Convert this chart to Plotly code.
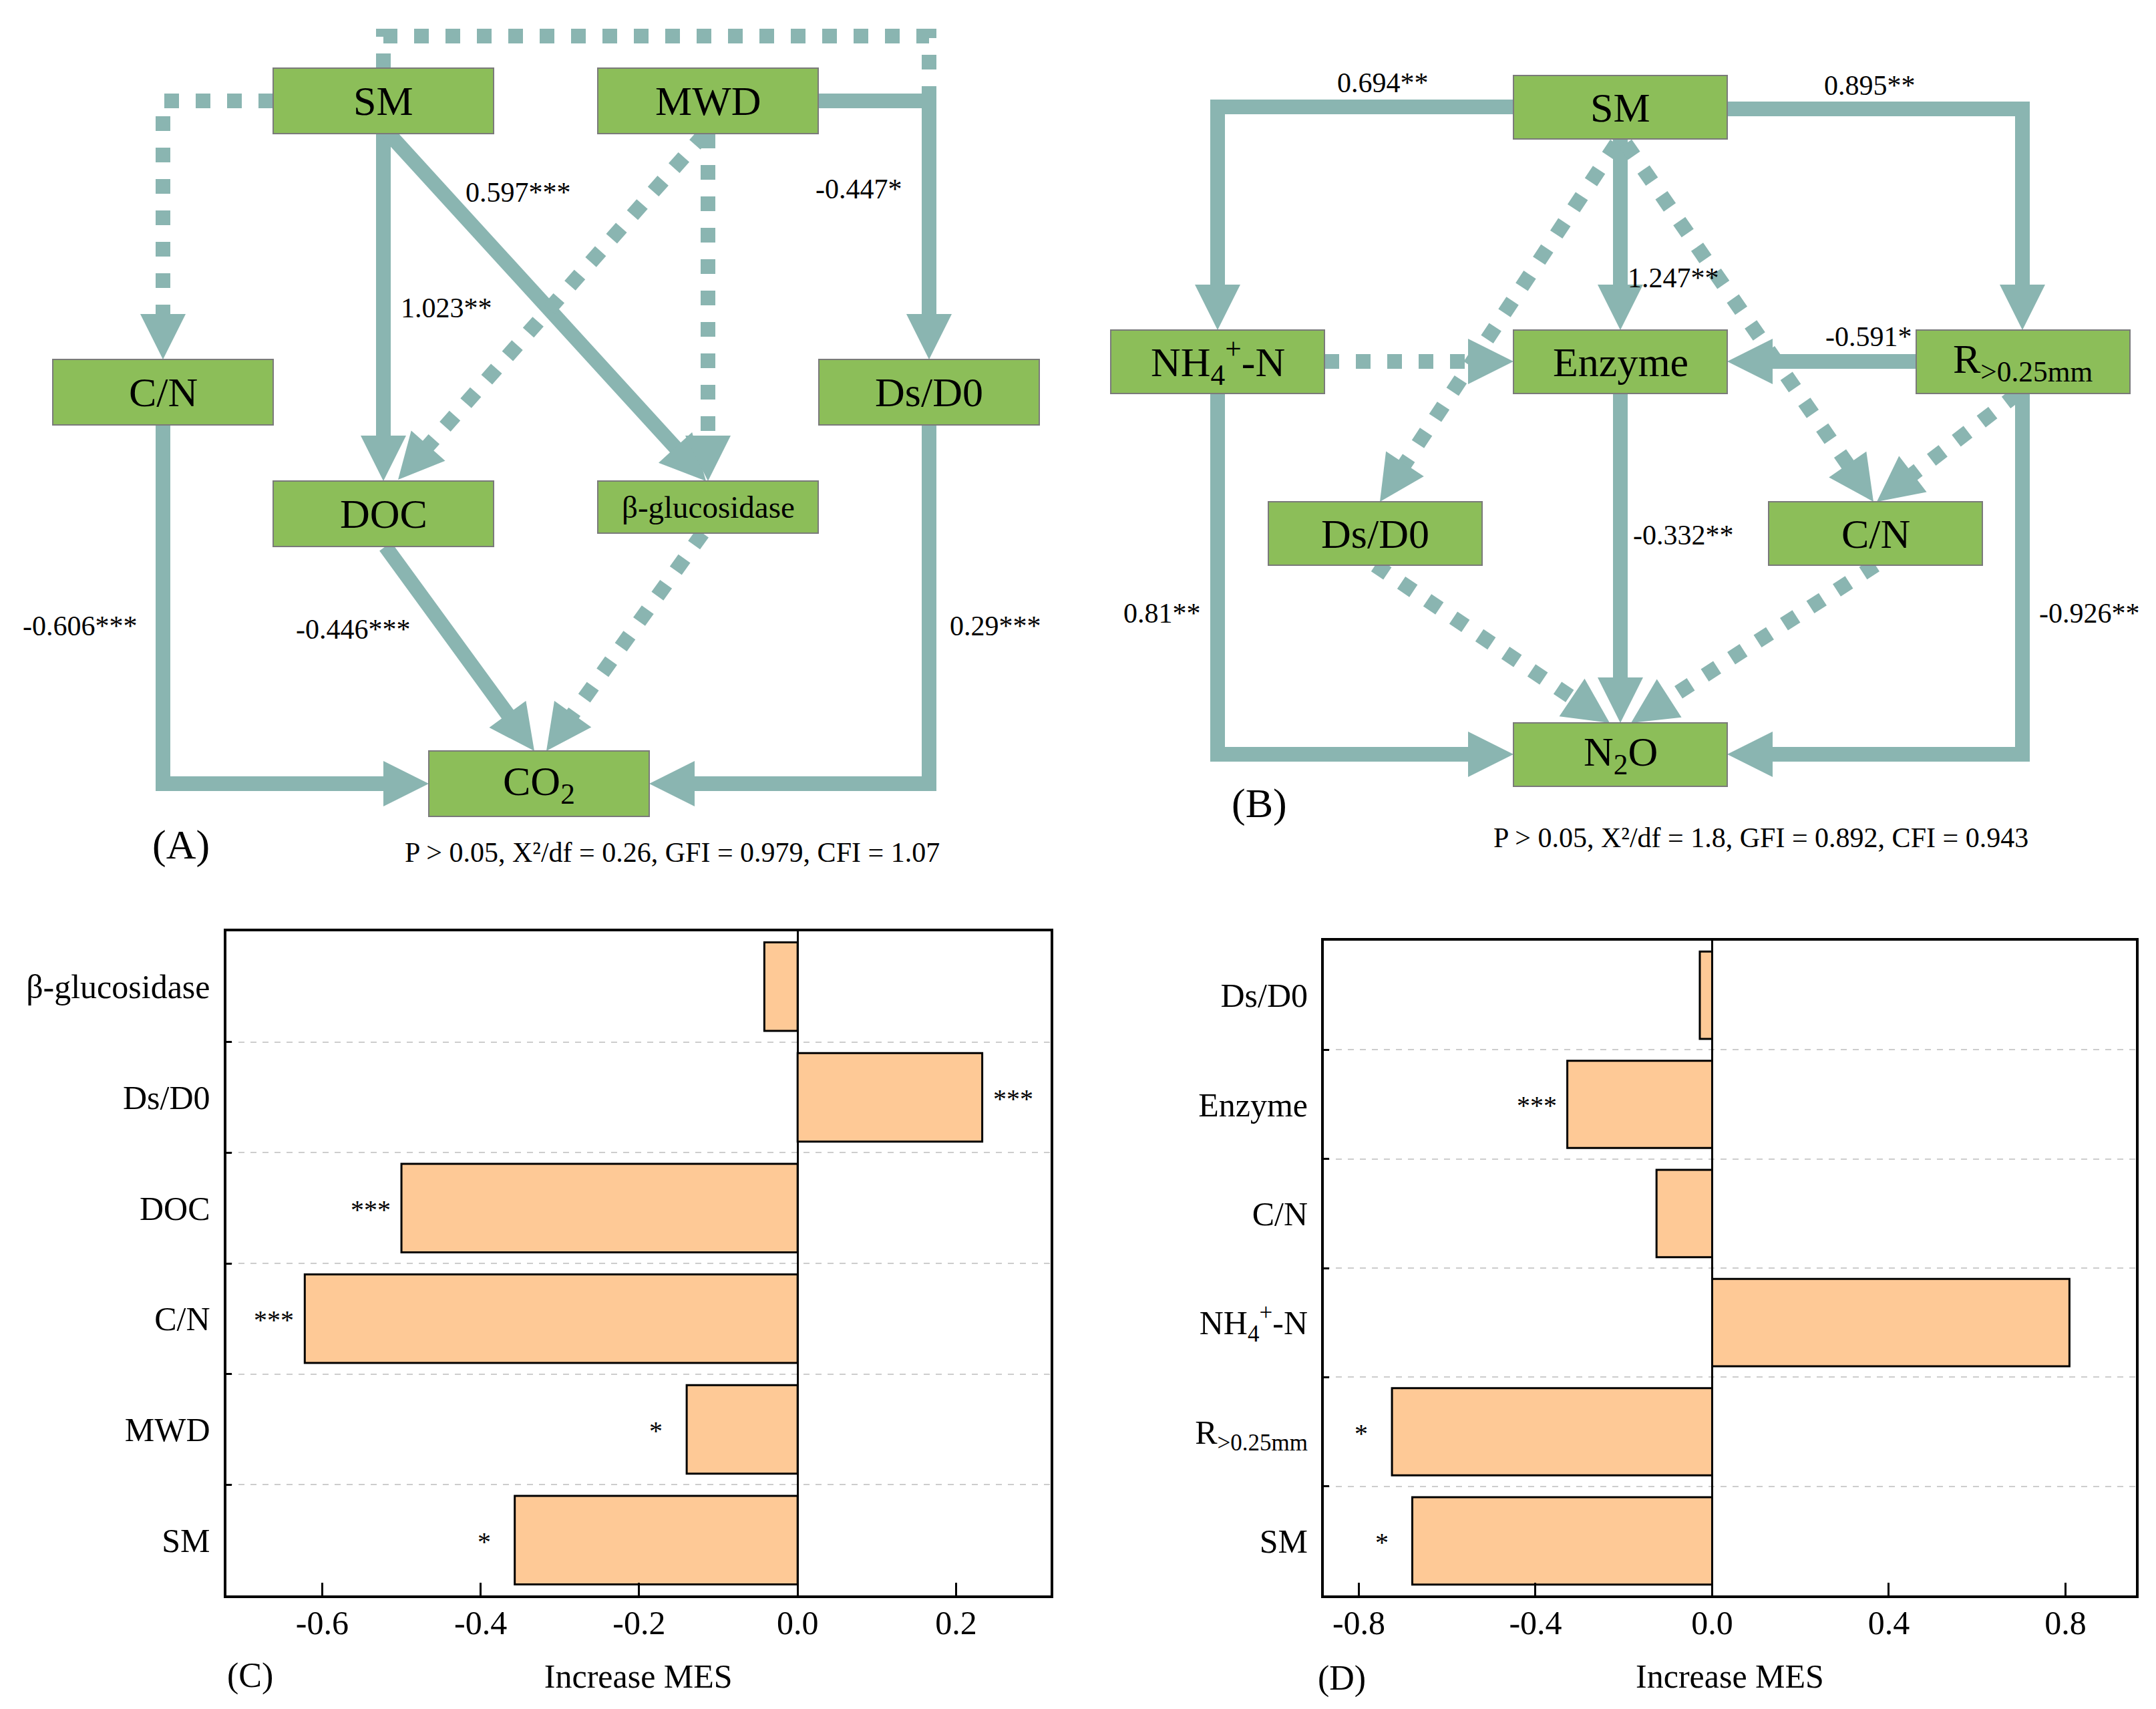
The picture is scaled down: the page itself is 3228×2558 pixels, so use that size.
import math
import plotly.graph_objects as go

# ---------------- DATA ----------------
# Panel C (CO2), top -> bottom
c_labels = ["β-glucosidase", "Ds/D0", "DOC", "C/N", "MWD", "SM"]
c_values = [-0.042, 0.233, -0.500, -0.622, -0.140, -0.357]
c_sig = ["", "***", "***", "***", "*", "*"]
c_tickvals = [-0.6, -0.4, -0.2, 0.0, 0.2]
c_ticktext = ["-0.6", "-0.4", "-0.2", "0.0", "0.2"]

# Panel D (N2O), top -> bottom
d_labels = ["Ds/D0", "Enzyme", "C/N", "NH<sub>4</sub><sup>+</sup>-N", "R<sub>&gt;0.25mm</sub>", "SM"]
d_values = [-0.028, -0.328, -0.126, 0.809, -0.725, -0.679]
d_sig = ["", "***", "", "", "*", "*"]
d_tickvals = [-0.8, -0.4, 0.0, 0.4, 0.8]
d_ticktext = ["-0.8", "-0.4", "0.0", "0.4", "0.8"]

x_title = "Increase MES"

# Panel A path model: node ids and labels
a_nodes = ["SM", "MWD", "CN", "DsD0", "DOC", "BG", "CO2"]
a_node_text = ["SM", "MWD", "C/N", "Ds/D0", "DOC", "β-glucosidase", "CO<sub>2</sub>"]
# edges: (source, target, coefficient label or "" if non-significant)
a_edges = [
    ("SM", "CN", ""),
    ("SM", "DsD0", ""),
    ("MWD", "DsD0", "-0.447*"),
    ("SM", "DOC", "1.023**"),
    ("SM", "BG", "0.597***"),
    ("MWD", "DOC", ""),
    ("MWD", "BG", ""),
    ("CN", "CO2", "-0.606***"),
    ("DOC", "CO2", "-0.446***"),
    ("BG", "CO2", ""),
    ("DsD0", "CO2", "0.29***"),
]
a_fit = "P > 0.05, X²/df = 0.26, GFI = 0.979, CFI = 1.07"

# Panel B path model
b_nodes = ["SM", "NH4", "ENZ", "R", "DsD0", "CN", "N2O"]
b_node_text = ["SM", "NH<sub>4</sub><sup>+</sup>-N", "Enzyme", "R<sub>&gt;0.25mm</sub>", "Ds/D0", "C/N", "N<sub>2</sub>O"]
b_edges = [
    ("SM", "NH4", "0.694**"),
    ("SM", "R", "0.895**"),
    ("SM", "ENZ", "1.247**"),
    ("SM", "DsD0", ""),
    ("SM", "CN", ""),
    ("NH4", "ENZ", ""),
    ("R", "ENZ", "-0.591*"),
    ("R", "CN", ""),
    ("NH4", "N2O", "0.81**"),
    ("ENZ", "N2O", "-0.332**"),
    ("R", "N2O", "-0.926**"),
    ("DsD0", "N2O", ""),
    ("CN", "N2O", ""),
]
b_fit = "P > 0.05, X²/df = 1.8, GFI = 0.892, CFI = 0.943"

# ---------------- LAYOUT / STYLE ----------------
W, H = 3228, 2558
FONT = "Liberation Serif"
GREEN = "#8CBE59"
BOX_LINE = "#7a7a7a"
ARROW = "#8AB5B1"
BAR = "#FEC996"

# node boxes (x0, y0, w, h) in page pixels
a_box = {
    "SM": (409, 102, 330, 98), "MWD": (895, 102, 330, 98),
    "CN": (79, 538, 330, 98), "DsD0": (1226, 538, 330, 98),
    "DOC": (409, 720, 330, 98), "BG": (895, 720, 330, 78),
    "CO2": (642, 1124, 330, 98),
}
a_font = {"BG": 47}
b_box = {
    "SM": (2266, 113, 320, 95), "NH4": (1663, 494, 320, 95),
    "ENZ": (2266, 494, 320, 95), "R": (2869, 494, 320, 95),
    "DsD0": (1899, 751, 320, 95), "CN": (2648, 751, 320, 95),
    "N2O": (2266, 1082, 320, 95),
}
b_font = {}

# edge routes (waypoints, page pixels) and whether an arrowhead is drawn
a_route = {
    ("SM", "CN"): ([(409, 151), (244, 151), (244, 538)], True),
    ("SM", "DsD0"): ([(574, 102), (574, 54), (1391, 54), (1391, 160)], False),
    ("MWD", "DsD0"): ([(1225, 151), (1391, 151), (1391, 538)], True),
    ("SM", "DOC"): ([(574, 200), (574, 720)], True),
    ("SM", "BG"): ([(582, 200), (1057, 720)], True),
    ("MWD", "DOC"): ([(1055, 200), (596, 718)], True),
    ("MWD", "BG"): ([(1060, 200), (1060, 720)], True),
    ("CN", "CO2"): ([(244, 636), (244, 1173), (642, 1173)], True),
    ("DOC", "CO2"): ([(577, 818), (800, 1124)], True),
    ("BG", "CO2"): ([(1052, 798), (818, 1124)], True),
    ("DsD0", "CO2"): ([(1391, 636), (1391, 1173), (972, 1173)], True),
}
a_lab_pos = {
    ("MWD", "DsD0"): (1286, 283), ("SM", "DOC"): (668, 461),
    ("SM", "BG"): (776, 288), ("CN", "CO2"): (120, 937),
    ("DOC", "CO2"): (529, 942), ("DsD0", "CO2"): (1490, 937),
}
b_route = {
    ("SM", "NH4"): ([(2266, 160), (1823, 160), (1823, 494)], True),
    ("SM", "R"): ([(2586, 163), (3028, 163), (3028, 494)], True),
    ("SM", "ENZ"): ([(2426, 208), (2426, 494)], True),
    ("SM", "DsD0"): ([(2420, 215), (2066, 751)], True),
    ("SM", "CN"): ([(2434, 215), (2805, 751)], True),
    ("NH4", "ENZ"): ([(1983, 541), (2266, 541)], True),
    ("R", "ENZ"): ([(2869, 541), (2586, 541)], True),
    ("R", "CN"): ([(3021, 589), (2810, 751)], True),
    ("NH4", "N2O"): ([(1823, 589), (1823, 1129), (2266, 1129)], True),
    ("ENZ", "N2O"): ([(2426, 589), (2426, 1082)], True),
    ("R", "N2O"): ([(3028, 589), (3028, 1129), (2586, 1129)], True),
    ("DsD0", "N2O"): ([(2059, 846), (2410, 1082)], True),
    ("CN", "N2O"): ([(2808, 846), (2442, 1082)], True),
}
b_lab_pos = {
    ("SM", "NH4"): (2070, 124), ("SM", "R"): (2799, 128),
    ("SM", "ENZ"): (2505, 416), ("R", "ENZ"): (2798, 504),
    ("NH4", "N2O"): (1740, 918), ("ENZ", "N2O"): (2520, 801),
    ("R", "N2O"): (3128, 918),
}
panel_tags = [("(A)", 271, 1264, 62), ("(B)", 1885, 1202, 62),
              ("(C)", 374, 2508, 52), ("(D)", 2009, 2512, 52)]
fit_pos = {"A": (1006, 1276), "B": (2636, 1254)}

LINE_W = 22
DASH = "22px,25px"
HEAD_L, HEAD_W = 68, 68

# ---------------- FIGURE ----------------
fig = go.Figure()

def add_bars(labels, values, xa, ya):
    fig.add_trace(go.Bar(
        x=values, y=labels, orientation="h", xaxis=xa, yaxis=ya,
        marker=dict(color=BAR, line=dict(color="black", width=3)),
        width=0.8, showlegend=False, hoverinfo="skip"))

add_bars(c_labels, c_values, "x", "y")
add_bars(d_labels, d_values, "x2", "y2")
# empty trace to host the diagram overlay axes
fig.add_trace(go.Scatter(x=[], y=[], xaxis="x3", yaxis="y3", showlegend=False))

shapes = []
annots = []

def tip_shape(p_prev, tip):
    dx, dy = tip[0] - p_prev[0], tip[1] - p_prev[1]
    n = math.hypot(dx, dy)
    ux, uy = dx / n, dy / n
    bx, by = tip[0] - HEAD_L * ux, tip[1] - HEAD_L * uy
    px, py = -uy, ux
    path = (f"M {tip[0]:.1f},{tip[1]:.1f} "
            f"L {bx + HEAD_W / 2 * px:.1f},{by + HEAD_W / 2 * py:.1f} "
            f"L {bx - HEAD_W / 2 * px:.1f},{by - HEAD_W / 2 * py:.1f} Z")
    return dict(type="path", xref="x3", yref="y3", path=path,
                fillcolor=ARROW, line=dict(width=0), layer="above")

def draw_diagram(nodes, node_text, box, fsize, edges, route, lab_pos):
    heads = []
    for (s, t, lab) in edges:
        pts, has_head = route[(s, t)]
        pts = list(pts)
        if has_head:
            (x0, y0), (x1, y1) = pts[-2], pts[-1]
            n = math.hypot(x1 - x0, y1 - y0)
            ux, uy = (x1 - x0) / n, (y1 - y0) / n
            heads.append(tip_shape(pts[-2], pts[-1]))
            pts[-1] = (x1 - 0.6 * HEAD_L * ux, y1 - 0.6 * HEAD_L * uy)
        path = "M " + " L ".join(f"{x:.1f},{y:.1f}" for x, y in pts)
        shapes.append(dict(type="path", xref="x3", yref="y3", path=path,
                           line=dict(color=ARROW, width=LINE_W,
                                     dash="solid" if lab else DASH),
                           layer="above"))
        if lab:
            lx, ly = lab_pos[(s, t)]
            annots.append(dict(x=lx, y=ly, xref="x3", yref="y3", text=lab,
                               showarrow=False,
                               font=dict(family=FONT, size=42, color="black")))
    shapes.extend(heads)
    for nid, txt in zip(nodes, node_text):
        x0, y0, w, h = box[nid]
        shapes.append(dict(type="rect", xref="x3", yref="y3",
                           x0=x0, x1=x0 + w, y0=y0, y1=y0 + h,
                           fillcolor=GREEN, line=dict(color=BOX_LINE, width=2),
                           layer="above"))
        annots.append(dict(x=x0 + w / 2, y=y0 + h / 2, xref="x3", yref="y3",
                           text=txt, showarrow=False,
                           font=dict(family=FONT, size=fsize.get(nid, 62), color="black")))

draw_diagram(a_nodes, a_node_text, a_box, a_font, a_edges, a_route, a_lab_pos)
draw_diagram(b_nodes, b_node_text, b_box, b_font, b_edges, b_route, b_lab_pos)

for txt, x, y, s in panel_tags:
    annots.append(dict(x=x, y=y, xref="x3", yref="y3", text=txt, showarrow=False,
                       font=dict(family=FONT, size=s, color="black")))
for key, txt in (("A", a_fit), ("B", b_fit)):
    x, y = fit_pos[key]
    annots.append(dict(x=x, y=y, xref="x3", yref="y3", text=txt, showarrow=False,
                       font=dict(family=FONT, size=42, color="black")))

# significance stars next to bars
def add_stars(labels, values, sig, xa, ya):
    for lab, v, s in zip(labels, values, sig):
        if s:
            annots.append(dict(x=v, y=lab, xref=xa, yref=ya, text=s, showarrow=False,
                               xshift=46 if v > 0 else -46, yshift=-2,
                               font=dict(family=FONT, size=40, color="black")))

add_stars(c_labels, c_values, c_sig, "x", "y")
add_stars(d_labels, d_values, d_sig, "x2", "y2")

def xaxis_cfg(domain, rng, tv, tt):
    return dict(domain=domain, range=rng, tickvals=tv, ticktext=tt,
                ticks="inside", ticklen=19, tickwidth=3, tickcolor="black",
                showline=True, linecolor="black", linewidth=4, mirror=True,
                showgrid=False, zeroline=True, zerolinecolor="black", zerolinewidth=3,
                ticklabelstandoff=-6,
                tickfont=dict(family=FONT, size=50, color="black"),
                title=dict(text=x_title, font=dict(family=FONT, size=50, color="black"),
                           standoff=36),
                fixedrange=True)

def yaxis_cfg(domain):
    return dict(domain=domain, range=[5.5, -0.5], type="category",
                tickson="boundaries", ticks="inside", ticklen=8, tickwidth=3,
                tickcolor="black", showline=True, linecolor="black", linewidth=4,
                mirror=True, showgrid=True, gridcolor="#cdcdcd", gridwidth=2,
                griddash="dash", ticklabelstandoff=10,
                tickfont=dict(family=FONT, size=50, color="black"), fixedrange=True)

fig.update_layout(
    width=W, height=H, margin=dict(l=0, r=0, t=0, b=0),
    paper_bgcolor="white", plot_bgcolor="rgba(0,0,0,0)",
    bargap=0.2, showlegend=False,
    xaxis=dict(anchor="y", **xaxis_cfg([338.5 / W, 1573 / W], [-0.7213, 0.3193], c_tickvals, c_ticktext)),
    yaxis=dict(anchor="x", **yaxis_cfg([1 - 2388 / H, 1 - 1394 / H])),
    xaxis2=dict(anchor="y2", **xaxis_cfg([1982 / W, 3198 / W], [-0.8794, 0.9596], d_tickvals, d_ticktext)),
    yaxis2=dict(anchor="x2", **yaxis_cfg([1 - 2388 / H, 1 - 1408 / H])),
    xaxis3=dict(anchor="y3", domain=[0, 1], range=[0, W], visible=False, fixedrange=True),
    yaxis3=dict(anchor="x3", domain=[0, 1], range=[H, 0], visible=False, fixedrange=True),
    shapes=shapes, annotations=annots,
)

fig.write_html("out.html", config={"displayModeBar": False},
               post_script="document.body.style.margin='0';document.body.style.overflow='hidden';")
